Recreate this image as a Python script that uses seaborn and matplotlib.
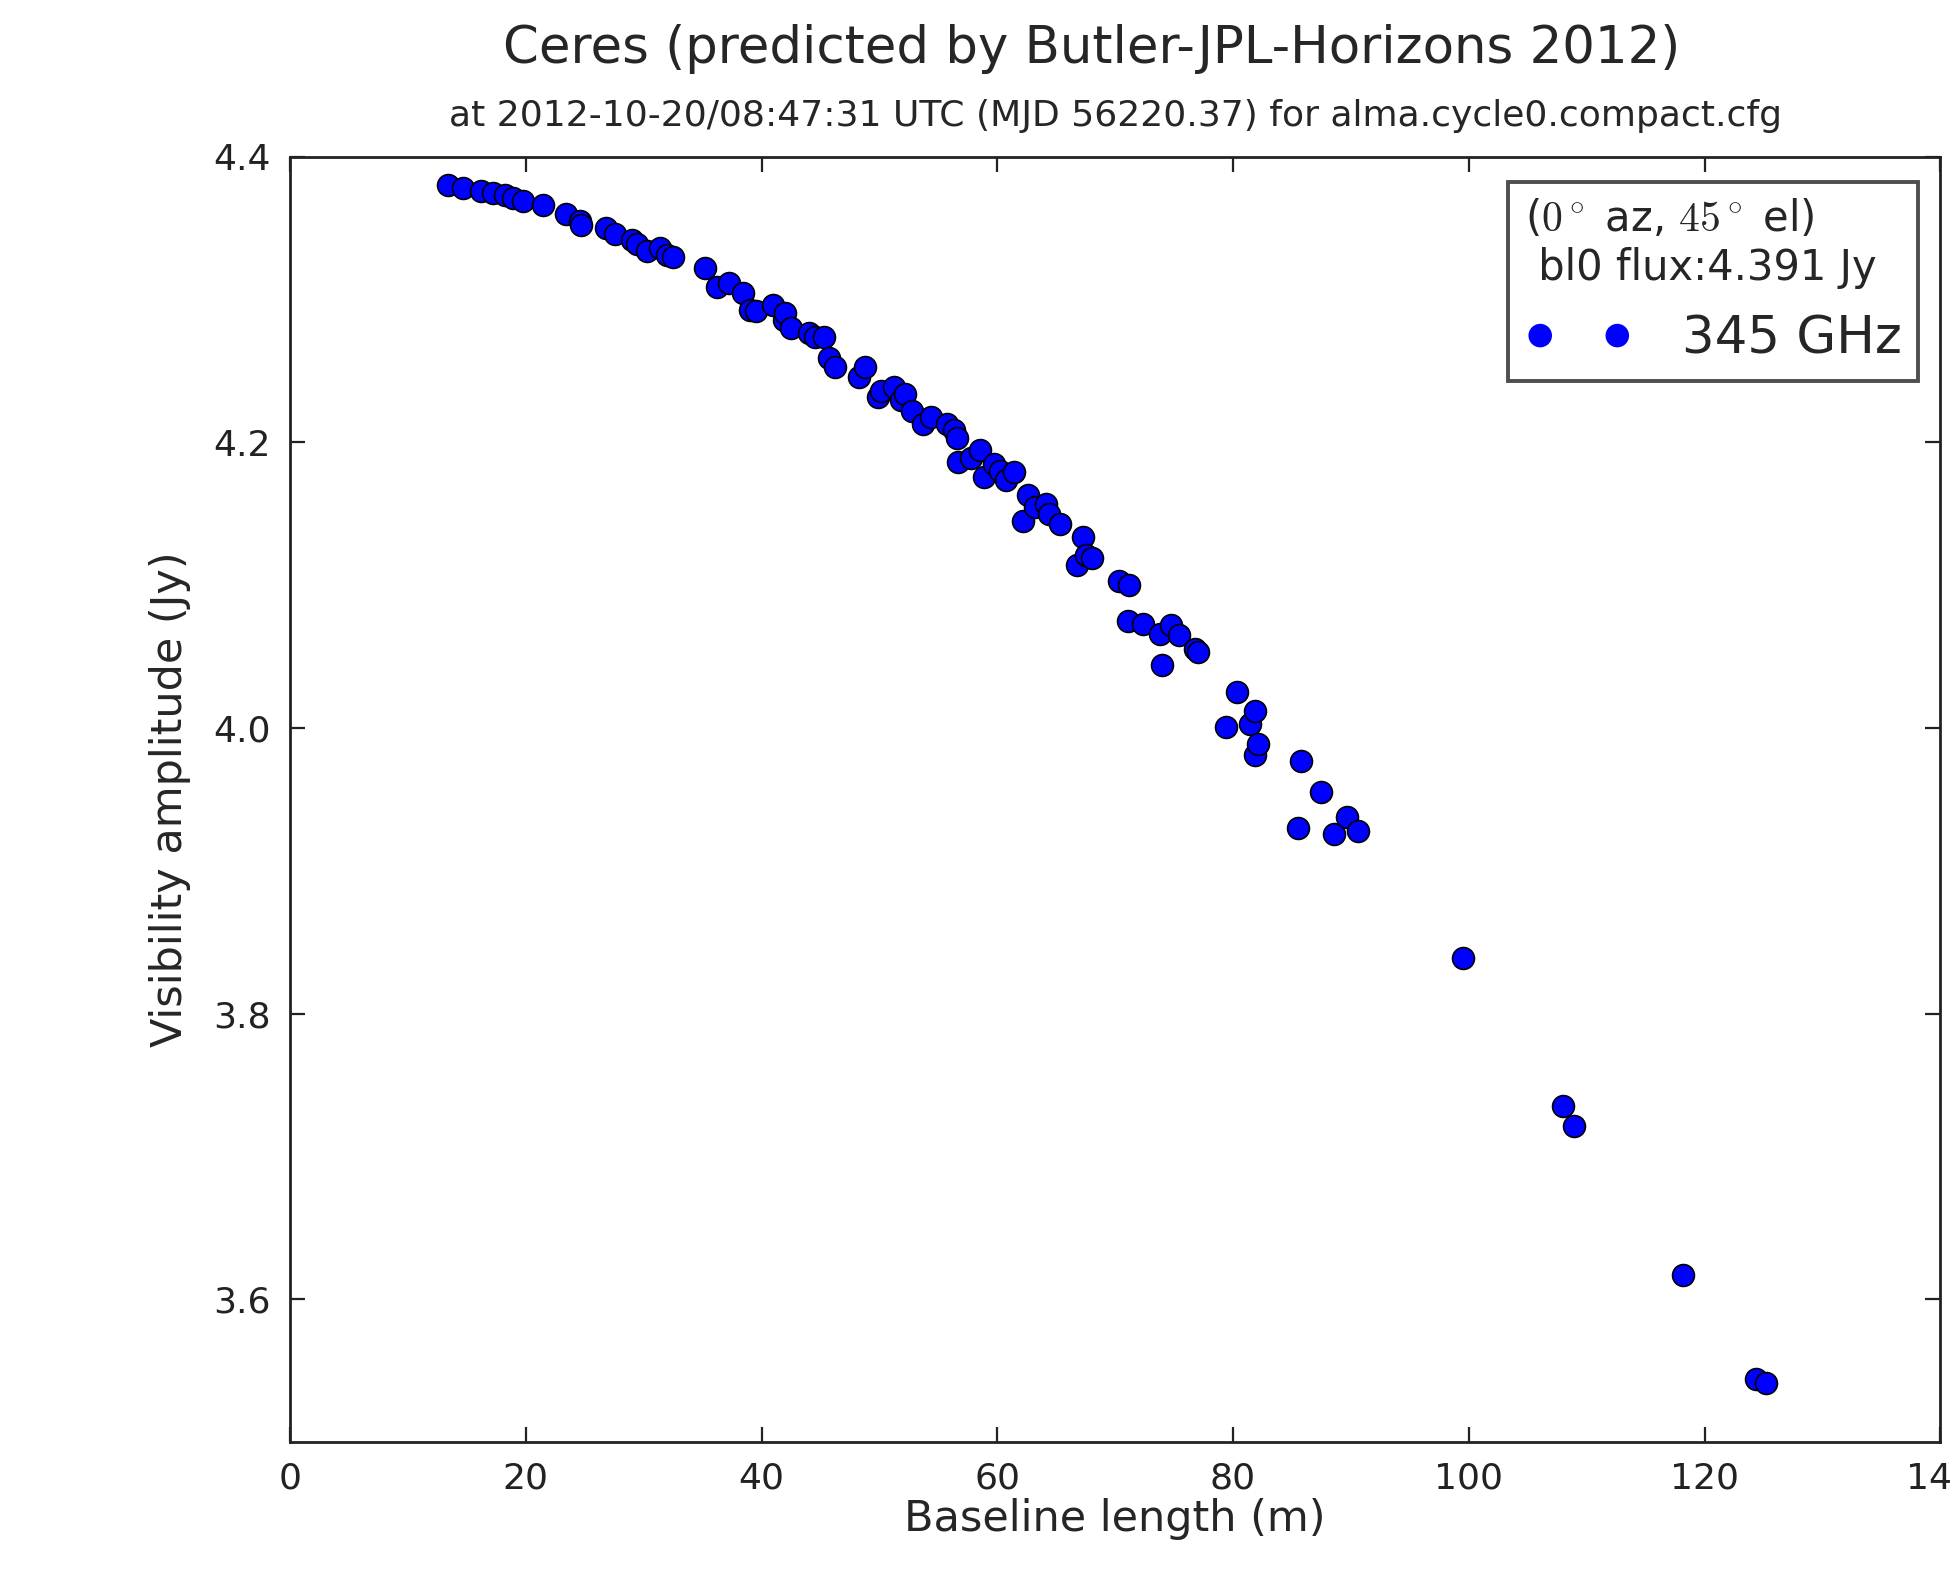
import numpy as np
import pandas as pd
import seaborn as sns
import matplotlib
matplotlib.use('Agg')
import matplotlib.pyplot as plt

# baseline length (m) and visibility amplitude (Jy)
baseline = [13.4, 14.7, 16.2, 17.2, 18.2, 18.9, 19.8, 21.5, 23.4, 24.6, 24.7, 26.8, 27.6,
            29.0, 29.4, 30.3, 31.4, 32.0, 32.5, 35.2, 36.2, 37.2, 38.4, 39.0, 39.5, 41.0,
            41.9, 42.0, 42.5, 44.0, 44.5, 45.3, 45.7, 46.2, 48.3, 48.8, 49.9, 50.1, 51.2,
            51.8, 52.2, 52.8, 53.7, 54.4, 55.7, 56.3, 56.6, 56.7, 57.8, 58.5, 58.9, 59.7,
            60.2, 60.7, 61.4, 62.2, 62.6, 63.2, 64.1, 64.4, 65.3, 66.8, 67.3, 67.5, 68.0,
            70.3, 71.1, 71.2, 72.4, 73.8, 74.0, 74.7, 75.4, 76.8, 77.0, 79.4, 80.3, 81.4,
            81.9, 81.9, 82.1, 85.5, 85.8, 87.5, 88.6, 89.7, 90.6, 99.5, 108.0, 108.9,
            118.2, 124.4, 125.2]
amplitude = [4.380, 4.378, 4.376, 4.375, 4.373, 4.371, 4.369, 4.366, 4.360, 4.355, 4.352,
             4.350, 4.346, 4.342, 4.339, 4.334, 4.336, 4.331, 4.330, 4.322, 4.309, 4.312,
             4.305, 4.293, 4.292, 4.296, 4.286, 4.291, 4.280, 4.277, 4.274, 4.274, 4.259,
             4.253, 4.246, 4.253, 4.232, 4.236, 4.239, 4.230, 4.234, 4.222, 4.213, 4.218,
             4.213, 4.209, 4.203, 4.186, 4.189, 4.195, 4.176, 4.185, 4.180, 4.174, 4.179,
             4.145, 4.163, 4.155, 4.157, 4.150, 4.143, 4.114, 4.134, 4.121, 4.119, 4.103,
             4.075, 4.100, 4.073, 4.066, 4.044, 4.072, 4.065, 4.055, 4.053, 4.001, 4.025,
             4.003, 4.012, 3.981, 3.989, 3.930, 3.977, 3.955, 3.926, 3.938, 3.928, 3.839,
             3.735, 3.721, 3.617, 3.544, 3.541]

title = 'Ceres (predicted by Butler-JPL-Horizons 2012)'
subtitle = 'at 2012-10-20/08:47:31 UTC (MJD 56220.37) for alma.cycle0.compact.cfg'
legend_title = '($0^\\circ$ az, $45^\\circ$ el)\n bl0 flux:4.391 Jy'
series_label = '345 GHz'

sns.set_style('ticks', {'xtick.direction': 'in', 'ytick.direction': 'in',
                        'xtick.top': True, 'ytick.right': True})
plt.rcParams['font.family'] = ['DejaVu Sans']
plt.rcParams['mathtext.fontset'] = 'cm'

df = pd.DataFrame({'baseline': baseline, 'amplitude': amplitude})

fig = plt.figure(figsize=(9.765, 7.845), dpi=200)
ax = fig.add_axes([0.1485, 0.081, 0.845, 0.819])
sns.scatterplot(data=df, x='baseline', y='amplitude', ax=ax, color='blue',
                edgecolor='black', linewidth=0.6, s=62, label=series_label)

ax.set_xlim(0, 140)
ax.set_ylim(3.5, 4.4)
ax.set_xticks([0, 20, 40, 60, 80, 100, 120, 140])
ax.set_yticks([3.6, 3.8, 4.0, 4.2, 4.4])
ax.tick_params(axis='both', which='major', length=5.5, width=0.8, labelsize=13,
               colors='#222222', pad=7)
for sp in ax.spines.values():
    sp.set_linewidth(1.0)
    sp.set_color('#222222')

ax.set_xlabel('Baseline length (m)', fontsize=15.5, labelpad=1)
ax.set_ylabel('Visibility amplitude (Jy)', fontsize=15.5, labelpad=8)
fig.text(0.5587, 0.969, title, ha='center', va='center', fontsize=18.5)
fig.text(0.5714, 0.926, subtitle, ha='center', va='center', fontsize=13)

leg = ax.legend(loc='upper right', title=legend_title, scatterpoints=2,
                scatteryoffsets=[0.5], fontsize=18.5, title_fontsize=15,
                frameon=True, fancybox=False, borderaxespad=0.0,
                handletextpad=0.95, handlelength=2.1, borderpad=0.32,
                alignment='left', bbox_to_anchor=(0.9864, 0.9806))
leg.get_frame().set_edgecolor('#222222')
leg.get_frame().set_linewidth(1.4)
leg.get_title().set_multialignment('left')
for h in leg.legend_handles:
    h.set_edgecolor('blue')

fig.savefig('out.png', dpi=200)
